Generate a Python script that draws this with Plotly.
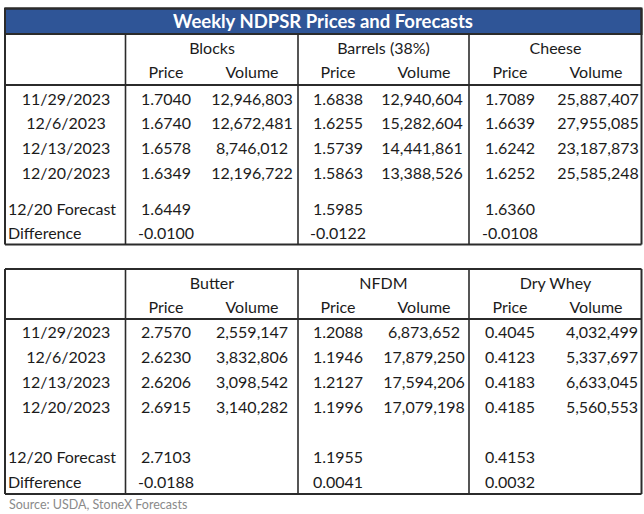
import plotly.graph_objects as go

# ---------------- data ----------------
title = "Weekly NDPSR Prices and Forecasts"
source_note = "Source: USDA, StoneX Forecasts"

dates = ["11/29/2023", "12/6/2023", "12/13/2023", "12/20/2023"]
extra_labels = ["12/20 Forecast", "Difference"]
sub_headers = ["Price", "Volume"]

top_products = ["Blocks", "Barrels (38%)", "Cheese"]
blocks_price = ["1.7040", "1.6740", "1.6578", "1.6349"]
blocks_volume = ["12,946,803", "12,672,481", "8,746,012", "12,196,722"]
barrels_price = ["1.6838", "1.6255", "1.5739", "1.5863"]
barrels_volume = ["12,940,604", "15,282,604", "14,441,861", "13,388,526"]
cheese_price = ["1.7089", "1.6639", "1.6242", "1.6252"]
cheese_volume = ["25,887,407", "27,955,085", "23,187,873", "25,585,248"]
top_forecast = ["1.6449", "1.5985", "1.6360"]
top_difference = ["-0.0100", "-0.0122", "-0.0108"]

bottom_products = ["Butter", "NFDM", "Dry Whey"]
butter_price = ["2.7570", "2.6230", "2.6206", "2.6915"]
butter_volume = ["2,559,147", "3,832,806", "3,098,542", "3,140,282"]
nfdm_price = ["1.2088", "1.1946", "1.2127", "1.1996"]
nfdm_volume = ["6,873,652", "17,879,250", "17,594,206", "17,079,198"]
whey_price = ["0.4045", "0.4123", "0.4183", "0.4185"]
whey_volume = ["4,032,499", "5,337,697", "6,633,045", "5,560,553"]
bottom_forecast = ["2.7103", "1.1955", "0.4153"]
bottom_difference = ["-0.0188", "0.0041", "0.0032"]

# ---------------- layout constants ----------------
W, H = 644, 514
FONT = "Lato"
FS = 16
TXT = "#1b1b1b"
LINE = "#2b2b2b"
BLUE = "#2F5597"
DY = 1.5  # vertical text nudge

x_left, x_right = 5, 641.5
v_lines = [125.5, 298, 469]
date_x = 66
label_x = 8
price_x = [166, 338, 510]
vol_x_top = [252, 422, 598]
vol_x_bot = [252, 424, 602]
head_vol_x = [252, 424, 596]
group_x = [212, 383.5, 555.5]

fig = go.Figure()


def text_trace(xs, ys, texts, align="middle center", color=TXT, size=FS, bold=False):
    fig.add_trace(go.Scatter(
        x=xs, y=[y + DY for y in ys], text=[f"<b>{t}</b>" if bold else t for t in texts],
        mode="text", textposition=align,
        textfont=dict(family=FONT, size=size, color=color),
        hoverinfo="skip", showlegend=False, cliponaxis=False))


def line(x0, y0, x1, y1, w=1.6):
    fig.add_shape(type="line", x0=x0, y0=y0, x1=x1, y1=y1, xref="x", yref="y",
                  line=dict(color=LINE, width=w))


def table(top, header_y1, header_y2, header_line, row_ys, fc_y, diff_y, bottom,
          products, prices, volumes, vol_x, forecast, difference, with_title):
    line(x_left, top, x_right, top, 2)
    line(x_left, bottom, x_right, bottom, 2)
    line(x_left, top, x_left, bottom, 2)
    line(x_right, top, x_right, bottom, 2)
    line(x_left, header_line, x_right, header_line, 1.8)
    vtop = top + (26 if with_title else 0)
    for vx in v_lines:
        line(vx, vtop, vx, bottom, 1.6)
    text_trace(group_x, [header_y1] * 3, products)
    text_trace(price_x, [header_y2] * 3, [sub_headers[0]] * 3)
    text_trace(head_vol_x, [header_y2] * 3, [sub_headers[1]] * 3)
    text_trace([date_x] * len(dates), row_ys, dates)
    for i in range(3):
        text_trace([price_x[i]] * len(prices[i]), row_ys, prices[i])
        text_trace([vol_x[i]] * len(volumes[i]), row_ys, volumes[i])
    text_trace([label_x, label_x], [fc_y, diff_y], extra_labels, align="middle right")
    text_trace(price_x, [fc_y] * 3, forecast)
    text_trace(price_x, [diff_y] * 3, difference)


fig.add_shape(type="rect", x0=x_left, y0=8.5, x1=x_right, y1=34, xref="x", yref="y",
              fillcolor=BLUE, line=dict(color=LINE, width=2), layer="below")

text_trace([323], [22], [title], color="white", size=18.5, bold=True)

table(8.5, 48, 72, 85, [99, 123, 148, 173], 209, 233, 244.5,
      top_products,
      [blocks_price, barrels_price, cheese_price],
      [blocks_volume, barrels_volume, cheese_volume],
      vol_x_top, top_forecast, top_difference, True)

table(269, 283, 307, 319, [332, 357, 382, 407], 457, 482, 494,
      bottom_products,
      [butter_price, nfdm_price, whey_price],
      [butter_volume, nfdm_volume, whey_volume],
      vol_x_bot, bottom_forecast, bottom_difference, False)

text_trace([9], [504], [source_note], align="middle right", color="#8a8a8a", size=12.5)

fig.update_xaxes(range=[0, W], visible=False, fixedrange=True)
fig.update_yaxes(range=[H, 0], visible=False, fixedrange=True)
fig.update_layout(width=W, height=H, margin=dict(l=0, r=0, t=0, b=0),
                  plot_bgcolor="white", paper_bgcolor="white")

fig.write_html("out.html", config={"displayModeBar": False},
               post_script="document.body.style.margin='0px';document.body.style.overflow='hidden';")
